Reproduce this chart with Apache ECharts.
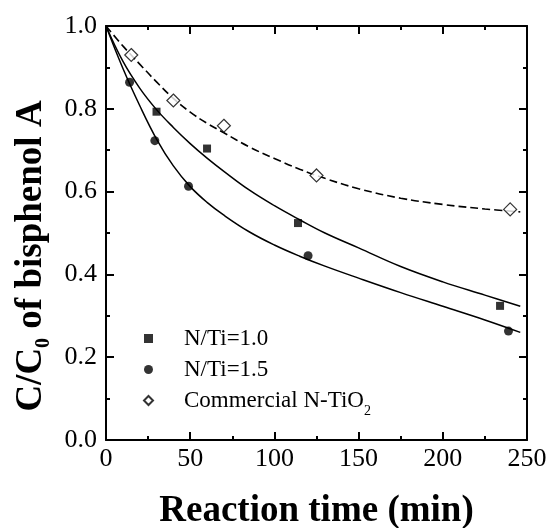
<!DOCTYPE html>
<html>
<head>
<meta charset="utf-8">
<script src="https://cdn.jsdelivr.net/npm/echarts@6/dist/echarts.min.js"></script>
<style>
  html, body { margin: 0; padding: 0; background: #fff; }
  #main { width: 548px; height: 528px; }
</style>
</head>
<body>
<div id="main"></div>
<script>
// measured points (time in min, C/C0)
var timeN10 = [30, 60, 114, 234];
var valN10 = [0.793, 0.704, 0.524, 0.324];
var timeN15 = [14, 29, 49, 120, 239];
var valN15 = [0.864, 0.723, 0.613, 0.445, 0.263];
var timeCom = [15, 40, 70, 125, 240];
var valCom = [0.930, 0.820, 0.759, 0.639, 0.557];

// fitted curves
var fitTime = [0, 10, 20, 30, 40, 50, 60, 70, 85, 100, 115, 130, 150, 175, 200, 225, 246];
var fitN10 = [1.0, 0.915, 0.850, 0.798, 0.755, 0.716, 0.681, 0.649, 0.604, 0.566, 0.532, 0.500, 0.464, 0.419, 0.382, 0.350, 0.323];
var fitN15 = [1.0, 0.898, 0.808, 0.727, 0.662, 0.612, 0.574, 0.543, 0.503, 0.471, 0.444, 0.420, 0.391, 0.356, 0.323, 0.290, 0.260];
var fitCom = [1.0, 0.952, 0.908, 0.865, 0.825, 0.792, 0.765, 0.742, 0.708, 0.680, 0.654, 0.632, 0.607, 0.584, 0.569, 0.558, 0.551];

var xTicks = ['0', '50', '100', '150', '200', '250'];
var yTicks = ['0.0', '0.2', '0.4', '0.6', '0.8', '1.0'];
var seriesNames = ['N/Ti=1.0', 'N/Ti=1.5', 'Commercial N-TiO2'];

function pairs(xs, ys) {
    var out = [];
    for (var i = 0; i < xs.length; i++) out.push([xs[i], ys[i]]);
    return out;
}

var font = 'Liberation Serif';
var chart = echarts.init(document.getElementById('main'));

function axisBase(kind, pos) {
    var a = {
        type: 'value', position: pos,
        axisLine: { onZero: false, lineStyle: { color: '#000', width: 2 } },
        axisTick: { inside: true, length: 8, lineStyle: { color: '#000', width: 2 } },
        minorTick: { show: true, splitNumber: 2, length: 4, lineStyle: { color: '#000', width: 2 } },
        splitLine: { show: false },
        axisLabel: { show: false }
    };
    if (kind === 'x') { a.min = 0; a.max = 250; a.interval = 50; }
    else { a.min = 0; a.max = 1; a.interval = 0.2; }
    return a;
}

var tickRich = { t: { fontFamily: font, fontSize: 26, color: '#000' } };

var xBottom = axisBase('x', 'bottom');
xBottom.axisLabel = {
    show: true, margin: 6, rich: tickRich,
    formatter: function (v) { return '{t|' + xTicks[Math.round(v / 50)] + '}'; }
};
xBottom.name = '{b|Reaction time (min)}';
xBottom.nameLocation = 'middle';
xBottom.nameGap = 53;
xBottom.nameTextStyle = {
    rich: { b: { color: '#000', fontFamily: font, fontSize: 37, fontWeight: 'bold' } }
};

var yLeft = axisBase('y', 'left');
yLeft.axisLabel = {
    show: true, margin: 9, rich: tickRich,
    formatter: function (v) { return '{t|' + yTicks[Math.round(v / 0.2)] + '}'; }
};
yLeft.name = '{a|C/C}{s|0}{a| of bisphenol A}';
yLeft.nameLocation = 'middle';
yLeft.nameGap = 50;
yLeft.nameTextStyle = {
    padding: [0, 46, 0, 0],
    rich: {
        a: { fontFamily: font, fontSize: 37, fontWeight: 'bold', color: '#000', lineHeight: 44 },
        s: { fontFamily: font, fontSize: 20, fontWeight: 'bold', color: '#000', lineHeight: 20, verticalAlign: 'bottom' }
    }
};

var option = {
    backgroundColor: '#fff',
    animation: false,
    grid: { left: 106, right: 21, top: 26, bottom: 88, containLabel: false, outerBoundsMode: 'none' },
    xAxis: [xBottom, axisBase('x', 'top')],
    yAxis: [yLeft, axisBase('y', 'right')],
    legend: {
        orient: 'vertical', left: 138, top: 322,
        itemWidth: 9, itemHeight: 9, itemGap: 8,
        selectedMode: false,
        data: seriesNames,
        formatter: function (name) {
            if (name.slice(-1) === '2') return '{n|' + name.slice(0, -1) + '}{s|2}';
            return '{n|' + name + '}';
        },
        textStyle: {
            padding: [0, 0, 0, 26],
            rich: {
                n: { fontFamily: font, fontSize: 23, color: '#000', lineHeight: 23 },
                s: { fontFamily: font, fontSize: 14, color: '#000', lineHeight: 23, verticalAlign: 'bottom', padding: [0, 0, -6, 0] }
            }
        }
    },
    series: [
        {
            name: 'fit10', type: 'line', smooth: 0.4, symbol: 'none', z: 2,
            lineStyle: { color: '#000', width: 1.5 },
            data: pairs(fitTime, fitN10)
        },
        {
            name: 'fit15', type: 'line', smooth: 0.4, symbol: 'none', z: 2,
            lineStyle: { color: '#000', width: 1.5 },
            data: pairs(fitTime, fitN15)
        },
        {
            name: 'fitCom', type: 'line', smooth: 0.4, symbol: 'none', z: 2,
            lineStyle: { color: '#000', width: 1.6, type: [8, 4] },
            data: pairs(fitTime, fitCom)
        },
        {
            name: seriesNames[0], type: 'scatter', symbol: 'rect', symbolSize: 8, z: 5,
            itemStyle: { color: '#000' },
            data: pairs(timeN10, valN10)
        },
        {
            name: seriesNames[1], type: 'scatter', symbol: 'circle', symbolSize: 9, z: 5,
            itemStyle: { color: '#000' },
            data: pairs(timeN15, valN15)
        },
        {
            name: seriesNames[2], type: 'scatter', symbol: 'diamond', symbolSize: 13, z: 5,
            itemStyle: { color: '#fff', borderColor: '#000', borderWidth: 1.2 },
            data: pairs(timeCom, valCom)
        }
    ]
};
chart.setOption(option);
</script>
</body>
</html>
